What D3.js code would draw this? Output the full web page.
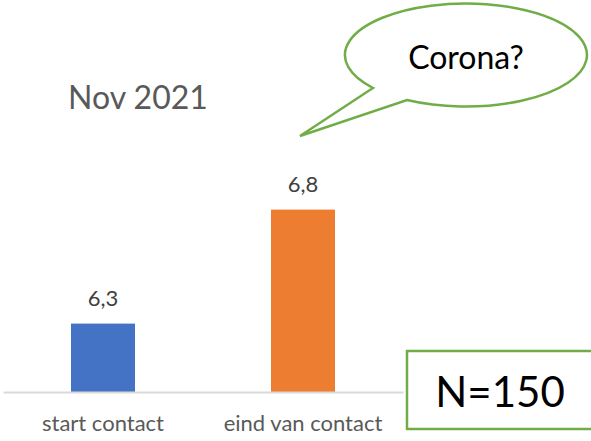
<!DOCTYPE html>
<html>
<head>
<meta charset="utf-8">
<script src="https://cdn.jsdelivr.net/npm/d3@7"></script>
<style>
  html, body { margin: 0; padding: 0; background: #fff; }
  svg { display: block; font-family: Lato, "Open Sans", sans-serif; }
</style>
</head>
<body>
<div id="chart"></div>
<script>
var categories = ["start contact", "eind van contact"];
var values = [6.3, 6.8];
var barColors = ["#4472C4", "#ED7D31"];
var title = "Nov 2021";
var bubbleText = "Corona?";
var sampleText = "N=150";

var width = 591, height = 441;
var baseY = 392;

var svg = d3.select("#chart").append("svg")
    .attr("width", width)
    .attr("height", height);

var x = d3.scaleBand()
    .domain(categories)
    .range([3, 403])
    .paddingInner(0.68)
    .paddingOuter(0.34);

var y = d3.scaleLinear()
    .domain([6, 7])
    .range([baseY, baseY - 228]);

var fmt = function(v){ return d3.format(".1f")(v).replace(".", ","); };

// bars
svg.selectAll("rect.bar")
    .data(values)
    .enter()
    .append("rect")
    .attr("class", "bar")
    .attr("x", function(d, i){ return x(categories[i]); })
    .attr("y", function(d){ return y(d); })
    .attr("width", x.bandwidth())
    .attr("height", function(d){ return y(6) - y(d); })
    .attr("fill", function(d, i){ return barColors[i]; });

// value labels
svg.selectAll("text.val")
    .data(values)
    .enter()
    .append("text")
    .attr("class", "val")
    .attr("x", function(d, i){ return x(categories[i]) + x.bandwidth() / 2; })
    .attr("y", function(d){ return y(d) - 18; })
    .attr("text-anchor", "middle")
    .attr("font-size", 22)
    .attr("fill", "#404040")
    .text(fmt);

// category axis
var axis = svg.append("g")
    .attr("transform", "translate(0," + baseY + ")")
    .call(d3.axisBottom(x).tickSize(0).tickPadding(23));
axis.select(".domain").attr("stroke", "#d9d9d9").attr("stroke-width", 2);
axis.selectAll("text")
    .attr("font-family", "Lato, sans-serif")
    .attr("font-size", 22)
    .attr("fill", "#595959");

// title
svg.append("text")
    .attr("x", 68)
    .attr("y", 109)
    .attr("font-size", 32)
    .attr("fill", "#595959")
    .text(title);

// speech bubble
svg.append("path")
    .attr("d", "M407,100 A121,51.5 0 1 0 373,88 L300,136 Z")
    .attr("fill", "#fff")
    .attr("stroke", "#70AD47")
    .attr("stroke-width", 2.5)
    .attr("stroke-linejoin", "miter");

svg.append("text")
    .attr("x", 466)
    .attr("y", 69)
    .attr("text-anchor", "middle")
    .attr("font-size", 32)
    .attr("fill", "#000")
    .text(bubbleText);

// N box
svg.append("rect")
    .attr("x", 407)
    .attr("y", 351)
    .attr("width", 195)
    .attr("height", 78)
    .attr("fill", "#fff")
    .attr("stroke", "#70AD47")
    .attr("stroke-width", 2.5);

svg.append("text")
    .attr("x", 500)
    .attr("y", 407)
    .attr("text-anchor", "middle")
    .attr("font-size", 42)
    .attr("fill", "#000")
    .text(sampleText);
</script>
</body>
</html>
